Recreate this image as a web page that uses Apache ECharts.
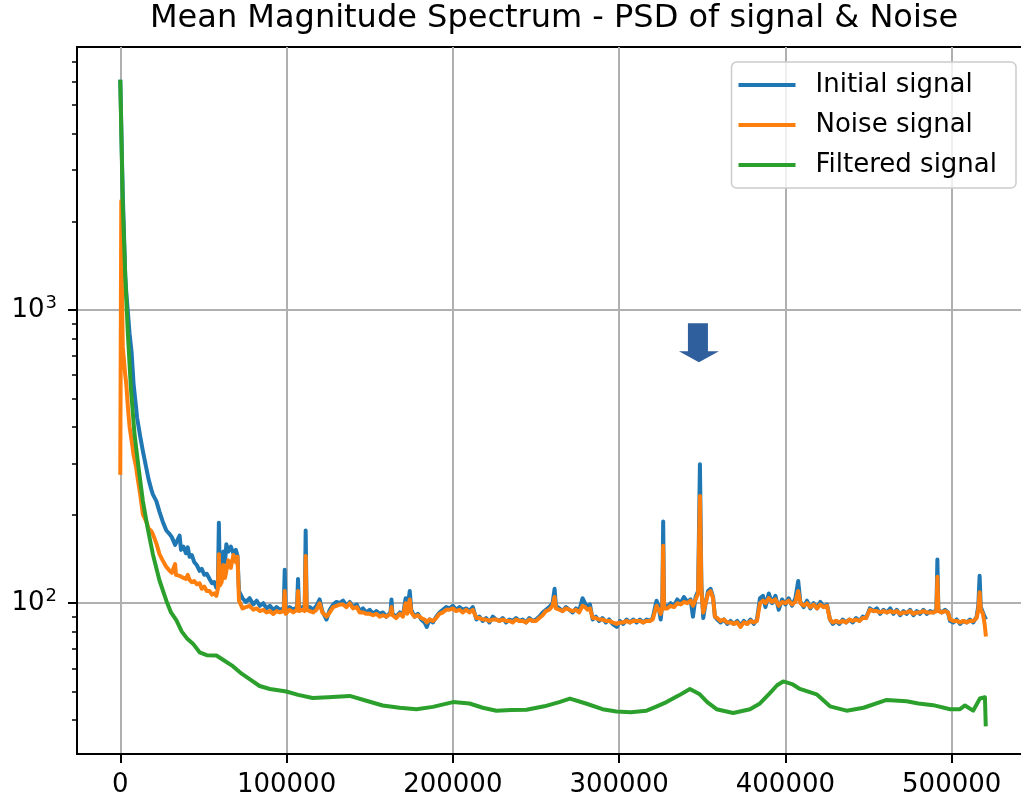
<!DOCTYPE html>
<html><head><meta charset="utf-8">
<script src="https://cdn.jsdelivr.net/npm/echarts@6/dist/echarts.min.js"></script>
<style>html,body{margin:0;padding:0;background:#fff}#c{width:1021px;height:797px}</style>
</head><body><div id="c"></div>
<script>
const chartTitle = 'Mean Magnitude Spectrum - PSD of signal & Noise';
const seriesNames = ['Initial signal', 'Noise signal', 'Filtered signal'];
const xTicks = [0, 100000, 200000, 300000, 400000, 500000];
const yMajorTicks = [100, 1000];
const yMinorTicks = [40, 50, 60, 70, 80, 90, 200, 300, 400, 500, 600, 700, 800, 900, 2000, 3000, 4000, 5000, 6000, 7000];
const arrowAt = [348000, 774];

const sigX = [
  0, 600, 900, 1500, 3000, 3600, 4800, 5600, 6800, 8000,
  9600, 10100, 12000, 13600, 15600, 17000, 18700, 19600, 21700, 23600,
  25500, 27700, 29700, 31000, 33000, 33500, 35700, 36500, 38000, 39500,
  40600, 41700, 43000, 44500, 46000, 47700, 49000, 50500, 52000, 53700,
  55200, 56500, 57800, 58700, 59300, 59900, 61000, 62000, 63000, 63800,
  65000, 66500, 68000, 69500, 70500, 71400, 73500, 75500, 77800, 80000,
  82000, 84000, 86000, 88000, 90000, 92000, 94000, 96000, 98300, 98900,
  99500, 101800, 104000, 106300, 106900, 107500, 109500, 110900, 111500, 112100,
  114000, 116000, 118000, 119900, 121500, 124000, 126000, 128000, 130000, 132000,
  134000, 136000, 138000, 140000, 142200, 144000, 146000, 148000, 150000, 152000,
  154000, 156000, 158000, 160000, 162500, 163100, 163700, 166000, 168100, 170000,
  171600, 172500, 174100, 175000, 177000, 179000, 181000, 183000, 184300, 186000,
  188000, 190000, 192000, 194000, 196000, 198000, 200000, 202000, 204000, 206000,
  208000, 210000, 212000, 214200, 216000, 218000, 220000, 222000, 224000, 226000,
  228000, 230000, 232000, 234000, 236000, 238000, 240000, 242000, 244000, 246000,
  248000, 250000, 252000, 254000, 256000, 258000, 260000, 261200, 262000, 264000,
  266000, 268000, 270000, 272000, 274000, 276000, 278000, 279500, 281000, 282500,
  284100, 286000, 288000, 290000, 292000, 294000, 296000, 298600, 300500, 302500,
  304500, 306500, 308500, 310500, 312500, 314500, 316500, 318500, 320200, 322500,
  323800, 325000, 326000, 326500, 327000, 329000, 331000, 333000, 335000, 337000,
  339000, 341000, 343000, 344400, 346000, 347500, 348600, 349500, 350600, 352000,
  353500, 355000, 356500, 357600, 359000, 361000, 363000, 365000, 367000, 369000,
  371000, 373000, 375000, 377000, 379000, 381000, 382900, 384700, 386500, 388000,
  390000, 392000, 394000, 396000, 398000, 400000, 402000, 404000, 406000, 407700,
  409000, 411000, 413000, 415000, 417000, 419000, 421000, 423000, 425000, 426800,
  428500, 430500, 432500, 434500, 436500, 438500, 440500, 442500, 444500, 446500,
  448500, 450800, 453000, 455000, 457000, 459000, 461000, 463000, 465000, 467000,
  469000, 471000, 473000, 475000, 477000, 479000, 481000, 483000, 485000, 487000,
  489000, 490800, 491400, 492000, 494000, 496000, 497800, 499000, 501000, 503000,
  505000, 507000, 509000, 511000, 513000, 515000, 516000, 516800, 517500, 518800,
  519800, 520600
];
const initialY = [
  6100, 4300, 3500, 2500, 1300, 1150, 950, 830, 720, 560,
  460, 430, 370, 330, 290, 265, 244, 235, 223, 205,
  190, 177, 172, 168, 158, 160, 170, 152, 156, 148,
  155, 144, 146, 138, 135, 129, 131, 125, 126, 121,
  117, 118, 113, 115, 188, 120, 128, 150, 138, 159,
  150, 156, 148, 152, 145, 110, 104, 101, 104, 99,
  102, 98, 100, 96, 98, 95, 97, 95, 96, 130,
  95, 97, 95, 97, 121, 96, 97, 95, 177, 96,
  97, 95, 98, 103, 94, 88, 95, 99, 101, 100,
  102, 98, 101, 97, 99, 94, 96, 93, 95, 92,
  94, 92, 93, 90, 93, 103, 92, 90, 93, 91,
  104, 94, 110, 95, 90, 92, 88, 86, 83, 88,
  86, 90, 93, 95, 97, 96, 98, 95, 97, 95,
  96, 94, 97, 88, 90, 87, 89, 86, 90, 88,
  87, 89, 86, 88, 87, 89, 87, 88, 86, 89,
  87, 88, 90, 93, 95, 97, 100, 112, 98, 96,
  94, 97, 95, 93, 96, 94, 104, 100, 97, 99,
  88, 90, 87, 89, 86, 88, 85, 83, 87, 85,
  88, 86, 88, 86, 88, 86, 88, 87, 89, 102,
  97, 88, 100, 190, 99, 97, 100, 98, 103, 100,
  105, 101, 103, 90, 105, 110, 298, 115, 89, 100,
  110, 112, 105, 90, 88, 86, 88, 85, 87, 85,
  87, 84, 87, 85, 88, 85, 88, 104, 106, 97,
  108, 100, 106, 95, 103, 99, 104, 98, 104, 119,
  101, 97, 102, 96, 100, 96, 101, 97, 99, 88,
  85, 87, 85, 88, 86, 88, 86, 89, 87, 90,
  89, 96, 94, 96, 92, 95, 93, 96, 92, 95,
  91, 94, 92, 95, 91, 94, 92, 95, 92, 94,
  93, 95, 141, 95, 93, 95, 93, 87, 86, 88,
  85, 87, 86, 88, 86, 90, 98, 124, 97, 93,
  90, 88
];
const noiseY = [
  274, 2355, 1300, 750, 600, 560, 450, 400, 360, 320,
  290, 275, 235, 201, 190, 180, 176, 172, 160, 147,
  140, 133, 129, 127, 136, 125, 124, 123, 122, 121,
  125, 120, 118, 119, 116, 117, 112, 114, 110, 110,
  107, 108, 106, 112, 147, 115, 118, 135, 122, 129,
  140, 132, 146, 138, 144, 102, 96, 97, 98, 95,
  96, 94, 95, 93, 94, 92, 94, 93, 94, 110,
  92, 95, 93, 95, 110, 94, 95, 94, 145, 95,
  94, 93, 95, 100, 93, 90, 93, 97, 98, 99,
  99, 97, 100, 96, 97, 93, 93, 92, 92, 91,
  92, 90, 91, 90, 92, 97, 91, 89, 92, 90,
  100, 92, 103, 93, 90, 91, 89, 88, 86, 88,
  87, 89, 92, 93, 95, 95, 96, 94, 95, 93,
  95, 93, 95, 89, 89, 88, 88, 87, 88, 88,
  87, 88, 87, 87, 86, 88, 87, 87, 86, 88,
  87, 87, 89, 91, 94, 95, 98, 105, 96, 95,
  94, 96, 95, 94, 95, 93, 98, 97, 95, 96,
  89, 89, 88, 88, 87, 87, 86, 85, 86, 86,
  87, 86, 87, 87, 87, 86, 87, 87, 88, 98,
  95, 92, 97, 157, 96, 96, 98, 97, 100, 99,
  101, 100, 102, 98, 103, 108, 232, 110, 93, 100,
  108, 110, 104, 90, 89, 87, 88, 86, 86, 85,
  86, 83, 86, 85, 87, 86, 87, 100, 102, 100,
  104, 101, 103, 98, 101, 100, 102, 99, 101, 110,
  100, 98, 100, 97, 99, 96, 99, 97, 98, 88,
  86, 87, 86, 87, 86, 88, 87, 88, 87, 89,
  89, 95, 94, 94, 93, 94, 93, 94, 93, 94,
  92, 93, 93, 94, 92, 93, 93, 94, 93, 93,
  93, 94, 123, 94, 93, 94, 93, 88, 87, 87,
  86, 87, 86, 87, 87, 89, 95, 109, 95, 92,
  85, 77
];
const filtX = [
  0, 1500, 3000, 4600, 6500, 8600, 11000, 13600, 16500, 19600,
  23500, 27700, 30500, 33700, 37000, 40000, 43700, 47700, 52000, 57800,
  62000, 67700, 73000, 78000, 83800, 90000, 99900, 107000, 115700, 125000,
  138000, 148000, 157800, 168000, 178100, 188000, 200100, 210000, 218000, 226200,
  235000, 244300, 255000, 264000, 270400, 280000, 290000, 298400, 307000, 316500,
  322000, 328500, 336000, 342600, 348500, 353000, 358600, 368600, 378700, 384700,
  390700, 395000, 398700, 404000, 408700, 418800, 426800, 436800, 447000, 460900,
  472900, 480000, 488900, 499000, 505000, 508000, 512900, 517000, 520000, 520500
];
const filtY = [
  6100, 2290, 1300, 825, 530, 376, 290, 223, 180, 147,
  120, 102, 93, 87.5, 80, 76, 72.8, 68, 66.5, 66.3,
  64, 61, 57.5, 55, 52.2, 51, 50, 48.7, 47.5, 47.8,
  48.3, 46.5, 44.8, 44, 43.5, 44.3, 46, 45.5, 44, 43,
  43.2, 43.3, 44.5, 46, 47.3, 45.5, 43.5, 42.7, 42.5, 43,
  44.3, 46, 48.5, 51, 48.9, 46, 43.5, 42.2, 43.5, 45.5,
  49.4, 52.5, 54.1, 53, 51, 48.9, 44.5, 43, 44, 46.8,
  46.3, 45.5, 44.9, 43.5, 43.5, 44.8, 43, 47.3, 47.8, 38
];

const FONT = 'DejaVu Sans';
const zip = (xs, ys) => xs.map((x, i) => [x, ys[i]]);
const colors = ['#1f77b4', '#ff7f0e', '#2ca02c'];

const chart = echarts.init(document.getElementById('c'), null, {renderer: 'canvas'});
const lineSeries = (name, data, color, extra) => Object.assign({
  name, type: 'line', data, showSymbol: false, symbol: 'none', animation: false,
  lineStyle: {color, width: 4, join: 'round', cap: 'butt'}, itemStyle: {color},
  emphasis: {disabled: true}, clip: true, z: 3
}, extra || {});

chart.setOption({
  animation: false,
  backgroundColor: '#ffffff',
  title: {
    text: chartTitle, left: 150, top: 3, padding: 0,
    textStyle: {fontFamily: FONT, fontSize: 32, fontWeight: 'normal', color: '#000'}
  },
  grid: {left: 77, top: 47, width: 952, height: 707, outerBoundsMode: 'none', containLabel: false,
         show: true, borderColor: '#000', borderWidth: 2, backgroundColor: 'transparent'},
  legend: {
    data: seriesNames, orient: 'vertical', right: 5, top: 62,
    icon: 'rect', itemWidth: 57, itemHeight: 4, itemGap: 14,
    padding: [10, 19, 10, 7],
    backgroundColor: 'rgba(255,255,255,0.8)', borderColor: '#cccccc', borderWidth: 1.5, borderRadius: 5,
    textStyle: {fontFamily: FONT, fontSize: 26, color: '#000', padding: [0, 0, 0, 15]},
    selectedMode: false
  },
  xAxis: {
    type: 'value', min: -26020, max: 546500,
    axisLine: {show: true, onZero: false, lineStyle: {color: '#000', width: 2}},
    axisTick: {show: true, customValues: xTicks, length: 9, lineStyle: {color: '#000', width: 2}},
    axisLabel: {customValues: xTicks, formatter: v => String(v), fontFamily: FONT, fontSize: 26, color: '#000', margin: 18},
    splitLine: {show: true, lineStyle: {color: '#b0b0b0', width: 2}}
  },
  yAxis: [{
    type: 'log', logBase: 10, min: 30.6, max: 7890,
    axisLine: {show: true, onZero: false, lineStyle: {color: '#000', width: 2}},
    axisTick: {show: true, customValues: yMajorTicks, length: 9, lineStyle: {color: '#000', width: 2}},
    axisLabel: {
      customValues: yMajorTicks, margin: 20,
      formatter: v => '{b|10}{e|' + Math.round(Math.log10(v)) + '}',
      rich: {
        b: {fontFamily: FONT, fontSize: 26, color: '#000'},
        e: {fontFamily: FONT, fontSize: 18, color: '#000', padding: [0, 0, 14, 1]}
      }
    },
    splitLine: {show: true, lineStyle: {color: '#b0b0b0', width: 2}},
    minorTick: {show: false}
  }, {
    type: 'log', logBase: 10, min: 30.6, max: 7890, position: 'left',
    axisLine: {show: false, onZero: false},
    axisTick: {show: true, customValues: yMinorTicks, length: 5, lineStyle: {color: '#000', width: 1.5}},
    axisLabel: {show: false},
    splitLine: {show: false}
  }],
  series: [
    lineSeries(seriesNames[0], zip(sigX, initialY), colors[0]),
    lineSeries(seriesNames[1], zip(sigX, noiseY), colors[1]),
    lineSeries(seriesNames[2], zip(filtX, filtY), colors[2], {
      markPoint: {
        silent: true, animation: false,
        data: [{
          coord: arrowAt,
          symbol: 'path://M9,0 L29,0 L29,28 L40,28 L20,39 L0,28 L9,28 Z',
          symbolSize: [40, 39],
          itemStyle: {color: '#2f5f9c'},
          label: {show: false}
        }]
      }
    })
  ]
});
</script>
</body></html>
